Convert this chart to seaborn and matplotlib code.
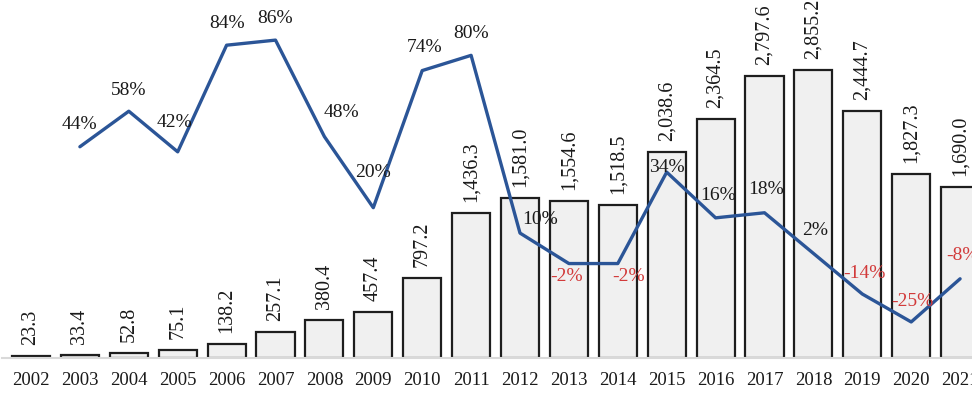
import matplotlib
matplotlib.use("Agg")
import matplotlib.pyplot as plt
import seaborn as sns
import pandas as pd

# Annual values and year-on-year growth
years = [str(y) for y in range(2002, 2022)]
values = [23.3, 33.4, 52.8, 75.1, 138.2, 257.1, 380.4, 457.4, 797.2, 1436.3,
          1581.0, 1554.6, 1518.5, 2038.6, 2364.5, 2797.6, 2855.2, 2444.7, 1827.3, 1690.0]
growth_years = years[1:]
growth = [44, 58, 42, 84, 86, 48, 20, 74, 80, 10, -2, -2, 34, 16, 18, 2, -14, -25, -8]

# label offsets (pixels) for the growth labels
growth_offsets = [(0, 22), (0, 21), (-3, 29), (0, 22), (0, 22), (17, 24), (0, 35), (2, 23),
                  (0, 22), (20, 14), (-2, -13), (11, -13), (0, 5), (2, 22), (2, 23),
                  (2, 23), (2, 21), (1, 20), (2, 23)]

sns.set_theme(style="white")
plt.rcParams["font.family"] = ["Liberation Serif", "DejaVu Serif"]

W, H, DPI = 972, 394, 100
fig = plt.figure(figsize=(W / DPI, H / DPI), dpi=DPI)

px_per_cat = 48.9
first_center = 31
xmin, xmax = -0.6, 19.6
left_px = first_center + xmin * px_per_cat
width_px = (xmax - xmin) * px_per_cat
base_px = 358
ax = fig.add_axes([left_px / W, (H - base_px) / H, width_px / W, base_px / H])

df = pd.DataFrame({"year": years, "value": values})
sns.barplot(data=df, x="year", y="value", ax=ax, color="#f0f0f0", width=0.78,
            edgecolor="#1e1e1e", linewidth=1.6, saturation=1)
ax.set_xlim(xmin, xmax)
ax.set_ylim(0, base_px / 0.1009)

for i, v in enumerate(values):
    ax.annotate(f"{v:,.1f}", (i, v), xytext=(0, 11), textcoords="offset pixels",
                rotation=90, ha="center", va="bottom", fontsize=14.5, color="#1a1a1a")

ax.set_xlabel("")
ax.set_ylabel("")
ax.set_yticks([])
for s in ["left", "right", "top"]:
    ax.spines[s].set_visible(False)
ax.spines["bottom"].set_color("#d9d9d9")
ax.spines["bottom"].set_linewidth(1.5)
ax.tick_params(axis="x", length=0, pad=10, labelsize=13.5, labelcolor="#1a1a1a")

# growth line on a secondary axis
ax2 = ax.twinx()
gdf = pd.DataFrame({"x": list(range(1, 20)), "growth": growth})
sns.lineplot(data=gdf, x="x", y="growth", ax=ax2, color="#2b5597", linewidth=2.4)
ax2.set_xlim(xmin, xmax)
ax2.set_ylim(-39.2, 101.8)
ax2.set_yticks([])
ax2.set_ylabel("")
ax2.set_xlabel("")
for s in ax2.spines.values():
    s.set_visible(False)

for i, (g, off) in enumerate(zip(growth, growth_offsets), start=1):
    color = "#d23a3a" if g < 0 else "#1a1a1a"
    ax2.annotate(f"{g}%", (i, g), xytext=off, textcoords="offset pixels",
                 ha="center", va="center", fontsize=14, color=color)

fig.savefig("out.png", dpi=DPI)
